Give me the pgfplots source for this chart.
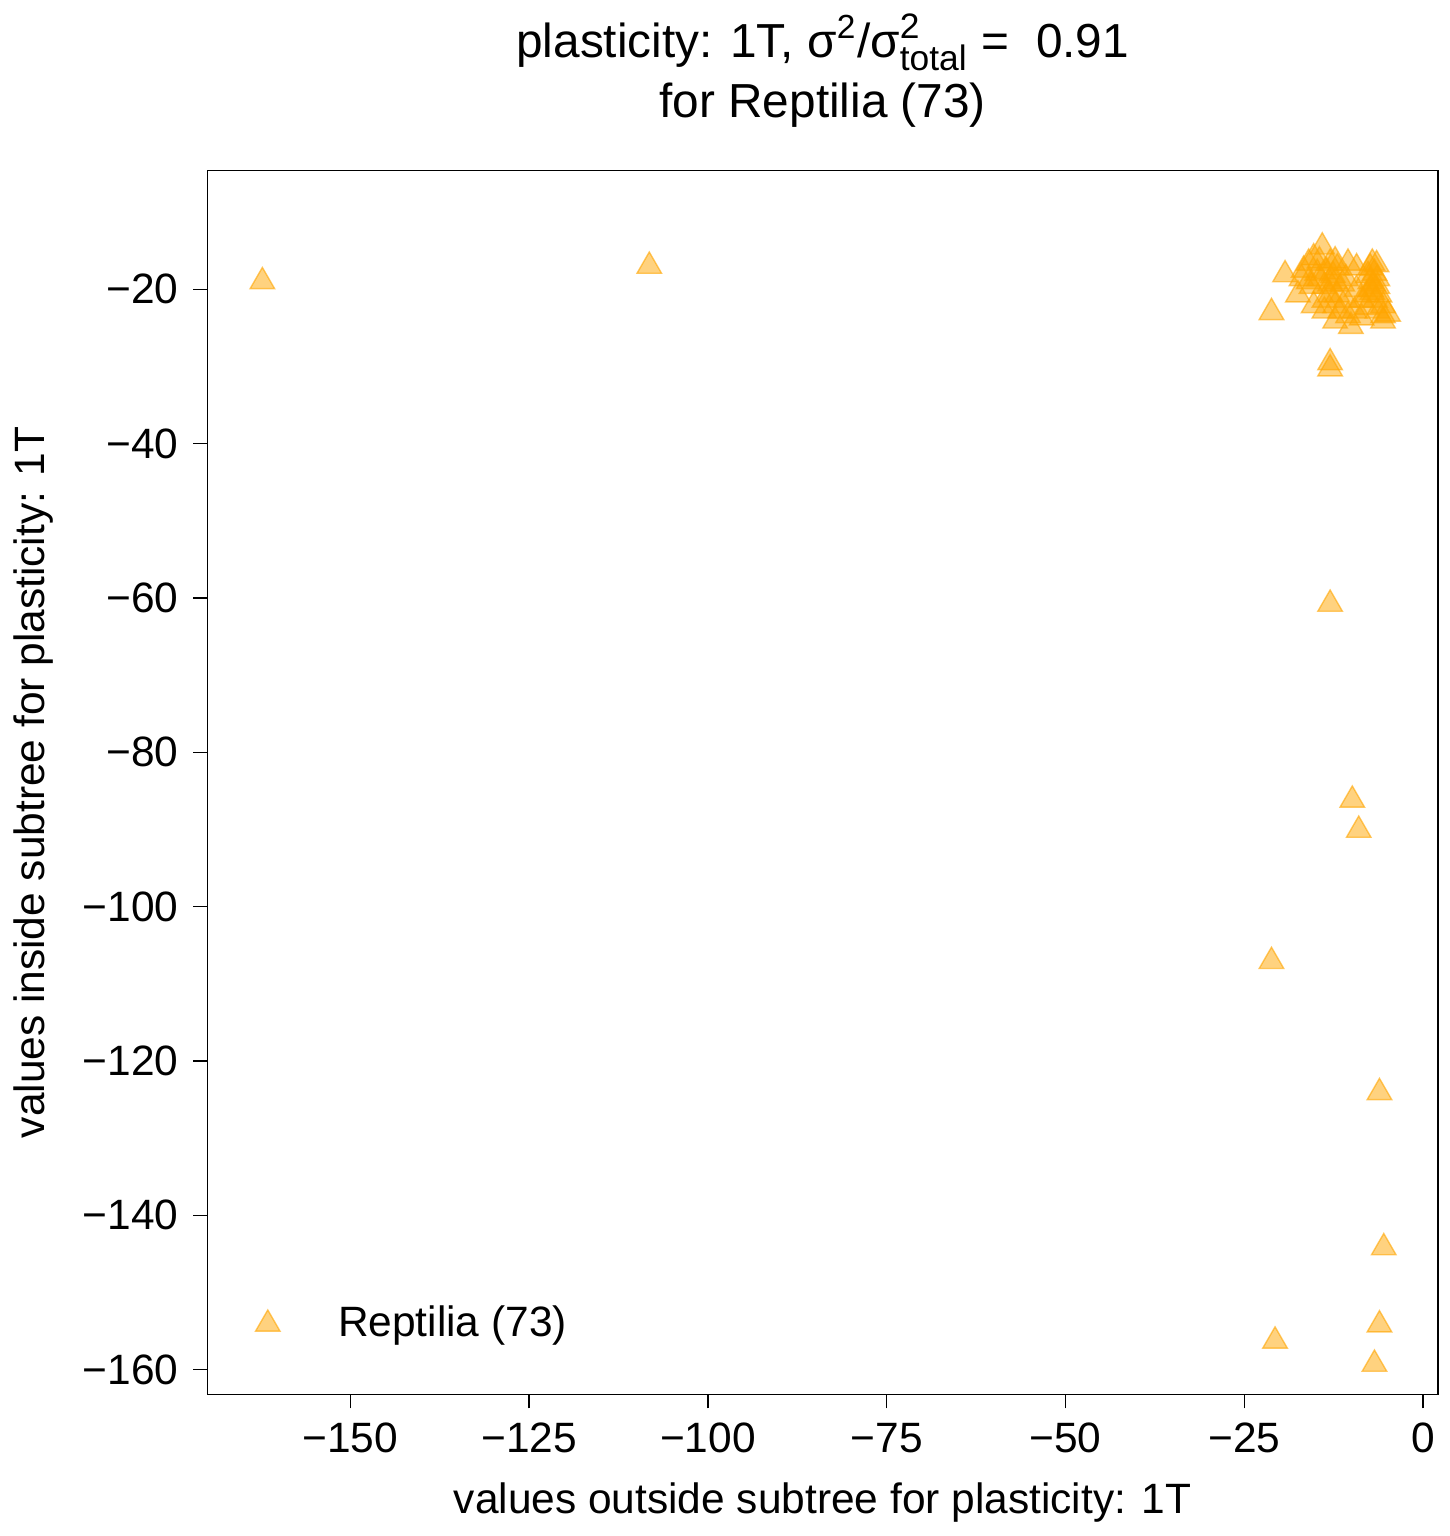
\documentclass[border=0pt]{standalone}
\usepackage{pgfplots}
\pgfplotsset{compat=1.18}
\usepackage{fontspec}
\setmainfont{Liberation Sans}
\definecolor{mplorange}{RGB}{255,165,0}
\begin{document}
\fontsize{12}{14}\selectfont
\begin{tikzpicture}
\begin{axis}[
  width=348pt, height=346pt, scale only axis,
  xmin=-170, xmax=2.1, ymin=-163.2, ymax=-4.6,
  xtick={-150,-125,-100,-75,-50,-25,0},
  xticklabels={−150,−125,−100,−75,−50,−25,0},
  ytick={-160,-140,-120,-100,-80,-60,-40,-20},
  yticklabels={−160,−140,−120,−100,−80,−60,−40,−20},
  tick align=outside, tick style={black, thin},
  major tick length=4pt,
  xtick pos=bottom, ytick pos=left,
  ticklabel style={font=\fontsize{12}{14}\selectfont},
  xlabel={values outside subtree for plasticity: 1T},
  ylabel={values inside subtree for plasticity: 1T},
  label style={font=\fontsize{12}{14}\selectfont},
  title style={align=center, font=\fontsize{13.5}{17}\selectfont, yshift=2pt},
  title={plasticity: 1T, σ\textsuperscript{2}/σ$^{\mbox{\fontsize{10}{10}\selectfont 2}}_{\mbox{\fontsize{10}{10}\selectfont total}}$ =\ \ 0.91\\for Reptilia (73)},
  legend style={at={(0.03,0.03)}, anchor=south west, draw=none, fill=none, font=\fontsize{12}{14}\selectfont},
  legend cell align=left,
  legend image code/.code={\draw[#1] plot coordinates {(0.3cm,0cm)};},
]
\addplot[only marks, mark=triangle*, mark size=4pt, draw=mplorange, fill=mplorange, draw opacity=0.6, fill opacity=0.5] coordinates {
(-162.3,-19.0) (-108.2,-17.0) (-21.2,-23.0) (-19.3,-18.1) (-13.0,-60.8)
(-9.9,-86.2) (-9.0,-90.1) (-21.2,-107.1) (-6.1,-124.1) (-5.5,-144.2)
(-6.1,-154.2) (-20.7,-156.3) (-6.8,-159.3) (-13.0,-29.5) (-13.0,-30.3)
(-14.1,-14.5) (-16.0,-16.6) (-14.5,-16.3) (-13.0,-16.6) (-12.3,-16.3)
(-12.0,-17.2) (-14.8,-17.9) (-16.7,-17.5) (-10.8,-18.6) (-12.3,-19.0)
(-13.0,-19.3) (-13.8,-19.6) (-15.3,-22.1) (-13.0,-20.7) (-11.6,-22.8)
(-12.3,-24.1) (-10.1,-24.8) (-13.8,-22.8) (-7.1,-16.6) (-7.4,-17.2)
(-6.8,-17.9) (-7.4,-19.0) (-6.4,-19.6) (-7.1,-20.4) (-6.7,-21.4)
(-5.6,-22.1) (-7.9,-22.3) (-5.6,-23.4) (-9.3,-20.0) (-8.6,-21.4)
(-10.8,-21.4) (-15.6,-19.6) (-17.5,-20.7) (-10.5,-16.6) (-7.9,-20.7)
(-6.4,-18.6) (-7.0,-19.3) (-7.3,-20.0) (-6.4,-22.8) (-12.0,-20.7)
(-12.6,-18.2) (-14.5,-18.6) (-9.6,-22.8) (-11.3,-19.3) (-13.5,-17.7)
(-15.3,-15.9) (-7.7,-18.2) (-6.5,-16.8) (-12.3,-22.1) (-10.5,-23.4)
(-13.8,-21.4) (-8.6,-23.7) (-5.6,-24.1) (-17.0,-18.6) (-16.0,-19.0)
(-4.9,-23.2) (-9.3,-17.2) (-6.1,-20.7)
};
\addlegendentry{\hspace{1.2em}Reptilia (73)}
\end{axis}
\end{tikzpicture}
\end{document}
